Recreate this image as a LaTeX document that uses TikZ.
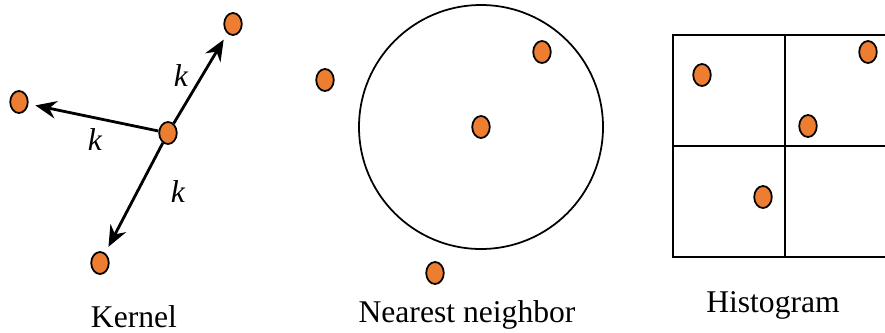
\documentclass[tikz,border=0pt]{standalone}
\usepackage{fontspec}
\setmainfont{Liberation Serif}
\usetikzlibrary{arrows.meta,shapes.geometric}
\definecolor{dotFill}{RGB}{237,125,49}

\begin{document}
\begin{tikzpicture}[
  x=0.02cm,
  y=-0.02cm,
  font=\fontsize{18}{20}\selectfont,
  dot/.style={ellipse, draw=black, line width=1pt, fill=dotFill, minimum width=10pt, minimum height=12.5pt, inner sep=0pt},
  caption/.style={anchor=base},
  dist/.style={-{Stealth[length=12pt,width=10pt,inset=4pt]}, line width=1.6pt, shorten >=4pt},
  frame/.style={draw=black, line width=1.1pt}
]
\useasboundingbox (0,0) rectangle (885,332);

% kernel
\node[dot] (kc) at (168,133) {};
\node[dot] (k1) at (233,24) {};
\node[dot] (k2) at (19,102) {};
\node[dot] (k3) at (100,263) {};
\draw[dist] (kc) -- (k1);
\draw[dist] (kc) -- (k2);
\draw[dist] (kc) -- (k3);
\node (kl1) at (181,76) {\textit{k}};
\node (kl2) at (95,140) {\textit{k}};
\node (kl3) at (178,192) {\textit{k}};
\node[caption] (kcap) at (134,327) {Kernel};

% nearest neighbor
\node[dot] (nc) at (481,127) {};
\node[dot] (n1) at (542,52) {};
\node[dot] (n2) at (325,80) {};
\node[dot] (n3) at (435,273) {};
\draw[frame, line width=1pt] (nc) circle[radius=122];
\node[caption] (ncap) at (467,322) {Nearest neighbor};

% histogram
\draw[frame] (673,35) rectangle (897,257);
\draw[frame] (785,35) -- (785,257);
\draw[frame] (673,146) -- (897,146);
\node[dot] (h1) at (702,75) {};
\node[dot] (h2) at (868,52) {};
\node[dot] (h3) at (808,126) {};
\node[dot] (h4) at (763,197) {};
\node[caption] (hcap) at (773,312) {Histogram};
\end{tikzpicture}
\end{document}
